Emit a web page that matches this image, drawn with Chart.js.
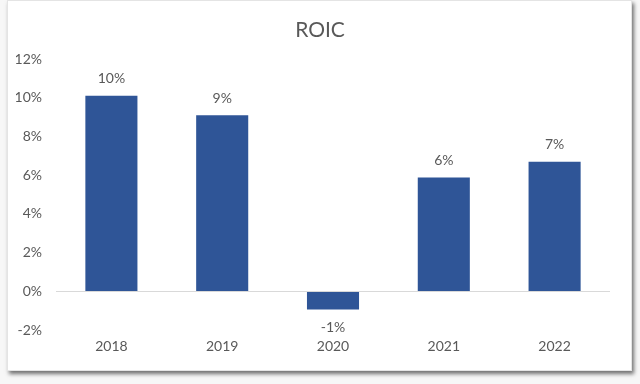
<!DOCTYPE html>
<html>
<head>
<meta charset="utf-8">
<script src="https://cdn.jsdelivr.net/npm/chart.js@4"></script>
<style>
  html, body { margin: 0; padding: 0; background: #f7f7f7; }
  #wrap { position: relative; width: 640px; height: 384px; overflow: hidden; }
  #card {
    position: absolute; left: 7px; top: 0px; width: 625px; height: 371px;
    background: #ffffff; border: 1px solid #e4e4e4; box-sizing: border-box;
    box-shadow: 2px 3px 4px rgba(0, 0, 0, 0.55);
  }
  #chart { position: absolute; left: 0; top: 0; }
</style>
</head>
<body>
<div id="wrap">
  <div id="card"></div>
  <canvas id="chart" width="640" height="384"></canvas>
</div>
<script>
const years = ['2018', '2019', '2020', '2021', '2022'];
const roic = [10.1, 9.1, -0.93, 5.88, 6.7];
const chartTitle = 'ROIC';

const textColor = '#595959';
const barColor = '#2F5597';
const fontFamily = 'Lato, "Open Sans", sans-serif';

// value labels above positive bars, below negative ones, plus a title centred on the card
const valueLabels = {
    id: 'valueLabels',
    afterDatasetsDraw(chart) {
        const ctx = chart.ctx;
        const meta = chart.getDatasetMeta(0);
        ctx.save();
        ctx.font = '14px ' + fontFamily;
        ctx.fillStyle = textColor;
        ctx.textAlign = 'center';
        ctx.textBaseline = 'middle';
        meta.data.forEach((bar, i) => {
            const v = roic[i];
            const y = v >= 0 ? bar.y - 17 : bar.y + 18;
            ctx.fillText(Math.round(v) + '%', bar.x, y);
        });
        ctx.font = '21px ' + fontFamily;
        ctx.fillText(chartTitle, chart.width / 2, 30);
        ctx.restore();
    }
};

new Chart(document.getElementById('chart').getContext('2d'), {
    type: 'bar',
    data: {
        labels: years,
        datasets: [{
            label: 'ROIC',
            data: roic,
            backgroundColor: barColor,
            borderWidth: 0,
            barPercentage: 0.94,
            categoryPercentage: 0.5
        }]
    },
    options: {
        responsive: false,
        animation: false,
        layout: { padding: { left: 16, right: 30, top: 59, bottom: 21 } },
        plugins: {
            legend: { display: false },
            tooltip: { enabled: false },
            title: { display: false }
        },
        scales: {
            x: {
                grid: { display: false, drawTicks: false },
                border: { display: false },
                ticks: {
                    color: textColor,
                    padding: 8,
                    font: { family: fontFamily, size: 14 }
                }
            },
            y: {
                min: -2,
                max: 12,
                border: { display: false },
                afterFit: (scale) => { scale.width = 40; },
                grid: {
                    drawTicks: false,
                    color: (c) => c.tick && c.tick.value === 0 ? '#d9d9d9' : 'rgba(0,0,0,0)'
                },
                ticks: {
                    stepSize: 2,
                    color: textColor,
                    padding: 14,
                    font: { family: fontFamily, size: 14 },
                    callback: (v) => v + '%'
                }
            }
        }
    },
    plugins: [valueLabels]
});
</script>
</body>
</html>
